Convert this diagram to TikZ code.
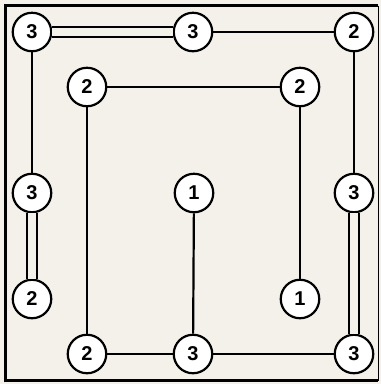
\documentclass[tikz,border=0pt]{standalone}
\usepackage{fontspec}
\setmainfont{Liberation Sans}
\usepackage{xcolor}
\usepackage{tikz}
\usetikzlibrary{positioning}
\definecolor{paper}{HTML}{F4F1EA}

\begin{document}
\begin{tikzpicture}[x=1pt,y=-1pt,
		isle/.style={shape=circle,draw=black,fill=white,line width=2.2pt,minimum size=38.5pt,inner sep=0pt,font=\fontsize{20}{20}\selectfont\bfseries},
		bridge/.style={-,draw=black,line width=2.2pt},
		twobridge/.style={-,draw=black,line width=2.2pt,double=paper,double distance=7.5pt}]
			\fill[paper] (0,0) rectangle (381,384);
			\draw[line width=1.5pt] (378.3,5.5) -- (378.3,380.5);
			\draw[line width=3pt] (378.3,5.5) -- (5.5,5.5) -- (5.5,380.5) -- (378.3,380.5);
			
			\node[isle] (tl) at (32,32) {3};
			\node[isle] (tm) at (193,32) {3};
			\node[isle] (tr) at (354,32) {2};
			\node[isle] (ml) at (32,193) {3};
			\node[isle] (bl) at (32,299) {2};
			\node[isle] (mr) at (354,193) {3};
			\node[isle] (br) at (354,354) {3};
			\node[isle] (il) at (87,87) {2};
			\node[isle] (ir) at (300,87) {2};
			\node[isle] (c) at (194,193) {1};
			\node[isle] (ib) at (300,299) {1};
			\node[isle] (bb) at (87,354) {2};
			\node[isle] (bm) at (193,354) {3};
			
			\path (tl) edge[twobridge] (tm);
			\path (tm) edge[bridge] (tr);
			\path (tl) edge[bridge] (ml);
			\path (ml) edge[twobridge] (bl);
			\path (tr) edge[bridge] (mr);
			\path (mr) edge[twobridge] (br);
			\path (il) edge[bridge] (ir);
			\path (il) edge[bridge] (bb);
			\path (ir) edge[bridge] (ib);
			\path (bb) edge[bridge] (bm);
			\path (bm) edge[bridge] (br);
			\path (c) edge[bridge] (bm);
\end{tikzpicture}
\end{document}
